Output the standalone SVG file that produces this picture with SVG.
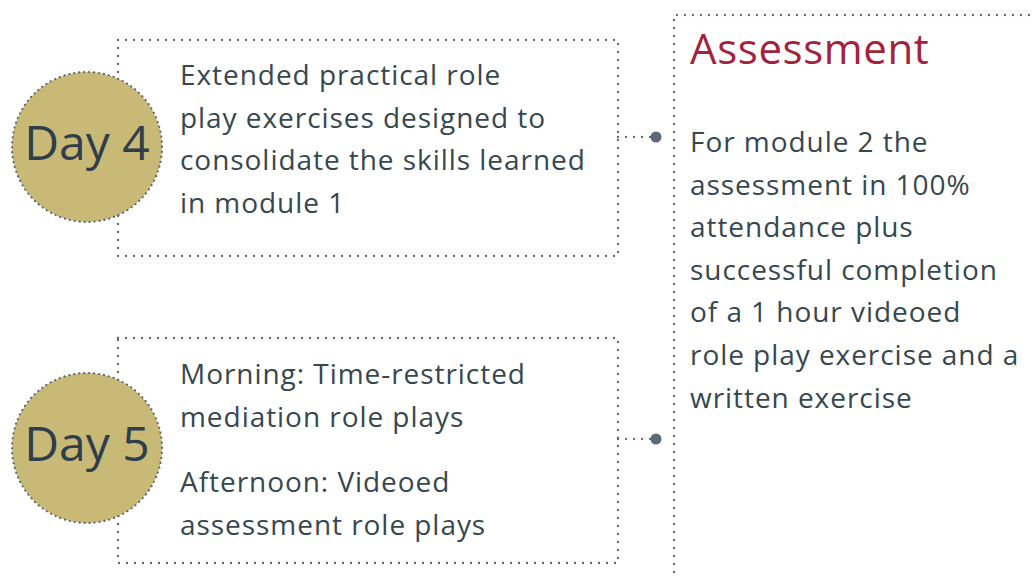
<svg xmlns="http://www.w3.org/2000/svg" width="1032" height="576" viewBox="0 0 1032 576">
<style>
.box{fill:none;stroke:#566174;stroke-width:2.3;stroke-dasharray:0 8;stroke-linecap:round}
.circ{fill:#c8b977;stroke:#566174;stroke-width:2.2;stroke-dasharray:0 5;stroke-linecap:round}
.conn{fill:none;stroke:#566174;stroke-width:2.3;stroke-dasharray:0 8;stroke-linecap:round}
.dot{fill:#5f6878}
.t{font-family:"Open Sans","Noto Sans",sans-serif;font-size:28px;fill:#37474f;letter-spacing:0.95px}
.day{font-family:"Open Sans","Noto Sans",sans-serif;font-size:48px;fill:#2f3e4a;text-anchor:middle}
.h{font-family:"Open Sans","Noto Sans",sans-serif;font-size:42px;fill:#a3223c;letter-spacing:0.6px}
</style>
<rect width="1032" height="576" fill="#ffffff"/>
<g id="day4">
<rect class="box" x="118" y="40" width="500" height="216"/>
<circle class="circ" cx="87" cy="147" r="75"/>
<text class="day" x="87" y="160">Day 4</text>
<text class="t" x="180" y="85">Extended practical role</text>
<text class="t" x="180" y="128">play exercises designed to</text>
<text class="t" x="180" y="170">consolidate the skills learned</text>
<text class="t" x="180" y="213">in module 1</text>
</g>
<g id="day5">
<rect class="box" x="118" y="338" width="500" height="225"/>
<circle class="circ" cx="87" cy="448" r="75"/>
<text class="day" x="87" y="461">Day 5</text>
<text class="t" x="180" y="384">Morning: Time-restricted</text>
<text class="t" x="180" y="427">mediation role plays</text>
<text class="t" x="180" y="492">Afternoon: Videoed</text>
<text class="t" x="180" y="535">assessment role plays</text>
</g>
<g id="assessment">
<path class="box" d="M674 580 V15 H1040"/>
<text class="h" x="690" y="64">Assessment</text>
<text class="t" x="690" y="152">For module 2 the</text>
<text class="t" x="690" y="195">assessment in 100%</text>
<text class="t" x="690" y="237">attendance plus</text>
<text class="t" x="690" y="280">successful completion</text>
<text class="t" x="690" y="322">of a 1 hour videoed</text>
<text class="t" x="690" y="365">role play exercise and a</text>
<text class="t" x="690" y="408">written exercise</text>
</g>
<g id="connectors">
<path class="conn" d="M618 137 H652"/>
<circle class="dot" cx="656" cy="137" r="5.5"/>
<path class="conn" d="M618 439 H652"/>
<circle class="dot" cx="656" cy="439" r="5.5"/>
</g>
</svg>
